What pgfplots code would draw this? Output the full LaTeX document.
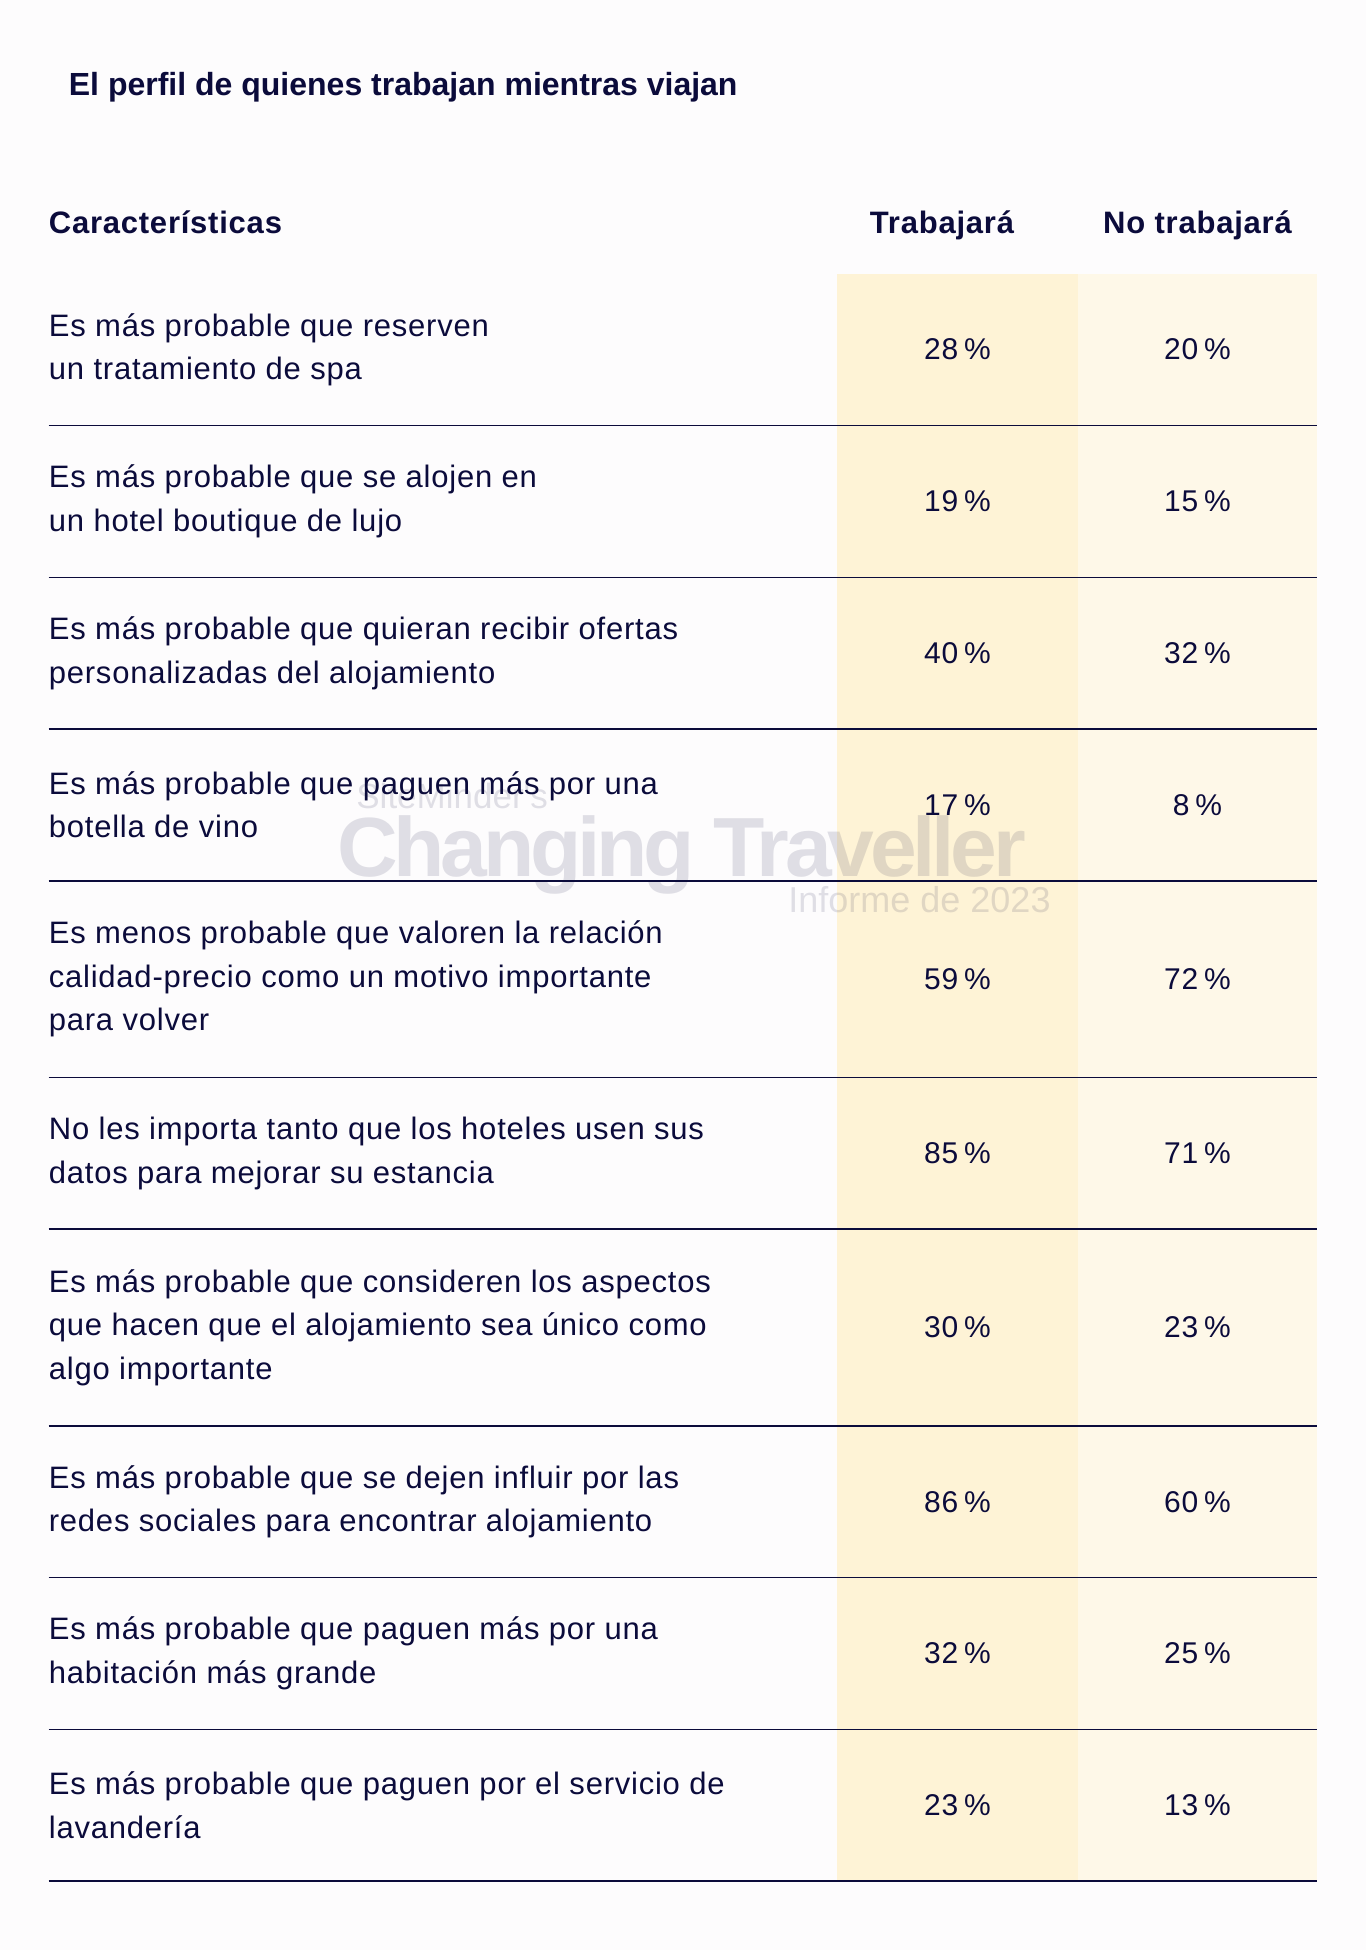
\documentclass[border=0pt]{standalone}
\usepackage{pgfplots}
\pgfplotsset{compat=1.18}
\usepackage{pgfplotstable}
\usepackage{fontspec}
\setmainfont[LetterSpace=2.5]{Liberation Sans}
\newfontfamily\plainfont{Liberation Sans}
\newfontfamily\wmfont[LetterSpace=-5]{Liberation Sans}
\definecolor{navy}{HTML}{0B0B3B}
\definecolor{bg}{HTML}{FDFCFD}
\definecolor{colA}{HTML}{FEF3D6}
\definecolor{colB}{HTML}{FEF8E8}
\tikzset{lbl/.style={anchor=west, align=left, inner sep=0pt, text=navy, font=\fontsize{15.5}{21.7}\selectfont}}

\pgfplotstableread{
y a b
349.6 28 20
501.4 19 15
653.2 40 32
804.9 17 8
979.1 59 72
1153.3 85 71
1327.5 30 23
1501.7 86 60
1653.4 32 25
1805.2 23 13
}\datatable

\begin{document}
\begin{tikzpicture}
\begin{axis}[
  width=683pt, height=975pt, scale only axis,
  xmin=0, xmax=1366, ymin=0, ymax=1950, y dir=reverse,
  hide axis, clip=false,
]
% background
\addplot[fill=bg, draw=none] coordinates {(0,0) (1366,0) (1366,1950) (0,1950)} -- cycle;
% column shading
\addplot[fill=colA, draw=none] coordinates {(837,273.7) (1077.5,273.7) (1077.5,1881) (837,1881)} -- cycle;
\addplot[fill=colB, draw=none] coordinates {(1077.5,273.7) (1317,273.7) (1317,1881) (1077.5,1881)} -- cycle;

% watermark
\node[anchor=base west, inner sep=0pt, text=navy, opacity=0.12, font=\plainfont\fontsize{17.5}{20}\selectfont] at (axis cs:356,808) {SiteMinder's};
\node[anchor=base, inner sep=0pt, text=navy, opacity=0.12, font=\wmfont\bfseries\fontsize{42}{48}\selectfont] at (axis cs:681.5,876) {Changing Traveller};
\node[anchor=base west, inner sep=0pt, text=navy, opacity=0.12, font=\plainfont\fontsize{18}{21}\selectfont] at (axis cs:788,912) {Informe de 2023};

% row separators
\addplot[navy, line width=0.75pt] coordinates {(48.5,425.5) (1317,425.5)};
\addplot[navy, line width=0.75pt] coordinates {(48.5,577.3) (1317,577.3)};
\addplot[navy, line width=0.75pt] coordinates {(48.5,729) (1317,729)};
\addplot[navy, line width=0.75pt] coordinates {(48.5,880.8) (1317,880.8)};
\addplot[navy, line width=0.75pt] coordinates {(48.5,1077.4) (1317,1077.4)};
\addplot[navy, line width=0.75pt] coordinates {(48.5,1229.2) (1317,1229.2)};
\addplot[navy, line width=0.75pt] coordinates {(48.5,1425.8) (1317,1425.8)};
\addplot[navy, line width=0.75pt] coordinates {(48.5,1577.5) (1317,1577.5)};
\addplot[navy, line width=0.75pt] coordinates {(48.5,1729.3) (1317,1729.3)};
\addplot[navy, line width=0.75pt] coordinates {(48.5,1881) (1317,1881)};

% title and headers
\node[anchor=base west, inner sep=0pt, text=navy, font=\plainfont\bfseries\fontsize{16}{19}\selectfont] at (axis cs:68.5,95) {El perfil de quienes trabajan mientras viajan};
\node[anchor=base west, inner sep=0pt, text=navy, font=\bfseries\fontsize{15.5}{18}\selectfont] at (axis cs:48.5,233.3) {Características};
\node[anchor=base, inner sep=0pt, text=navy, font=\bfseries\fontsize{15.5}{18}\selectfont] at (axis cs:942,233.3) {Trabajará};
\node[anchor=base, inner sep=0pt, text=navy, font=\bfseries\fontsize{15.5}{18}\selectfont] at (axis cs:1197.5,233.3) {No trabajará};

% row labels
\node[lbl] at (axis cs:48.5,349.6) {Es más probable que reserven\\un tratamiento de spa};
\node[lbl] at (axis cs:48.5,501.4) {Es más probable que se alojen en\\un hotel boutique de lujo};
\node[lbl] at (axis cs:48.5,653.2) {Es más probable que quieran recibir ofertas\\personalizadas del alojamiento};
\node[lbl] at (axis cs:48.5,804.9) {Es más probable que paguen más por una\\botella de vino};
\node[lbl] at (axis cs:48.5,979.1) {Es menos probable que valoren la relación\\calidad-precio como un motivo importante\\para volver};
\node[lbl] at (axis cs:48.5,1153.3) {No les importa tanto que los hoteles usen sus\\datos para mejorar su estancia};
\node[lbl] at (axis cs:48.5,1327.5) {Es más probable que consideren los aspectos\\que hacen que el alojamiento sea único como\\algo importante};
\node[lbl] at (axis cs:48.5,1501.7) {Es más probable que se dejen influir por las\\redes sociales para encontrar alojamiento};
\node[lbl] at (axis cs:48.5,1653.4) {Es más probable que paguen más por una\\habitación más grande};
\node[lbl] at (axis cs:48.5,1805.2) {Es más probable que paguen por el servicio de\\lavandería};

% values
\addplot[only marks, mark=text, text mark={},
  point meta=explicit symbolic,
  nodes near coords={\pgfplotspointmeta\hspace{0.2em}\%},
  nodes near coords style={anchor=center, inner sep=0pt, text=navy, font=\fontsize{15}{18}\selectfont}]
  table[x expr=957.5, y=y, meta=a] {\datatable};
\addplot[only marks, mark=text, text mark={},
  point meta=explicit symbolic,
  nodes near coords={\pgfplotspointmeta\hspace{0.2em}\%},
  nodes near coords style={anchor=center, inner sep=0pt, text=navy, font=\fontsize{15}{18}\selectfont}]
  table[x expr=1197.5, y=y, meta=b] {\datatable};
\end{axis}
\end{tikzpicture}
\end{document}
